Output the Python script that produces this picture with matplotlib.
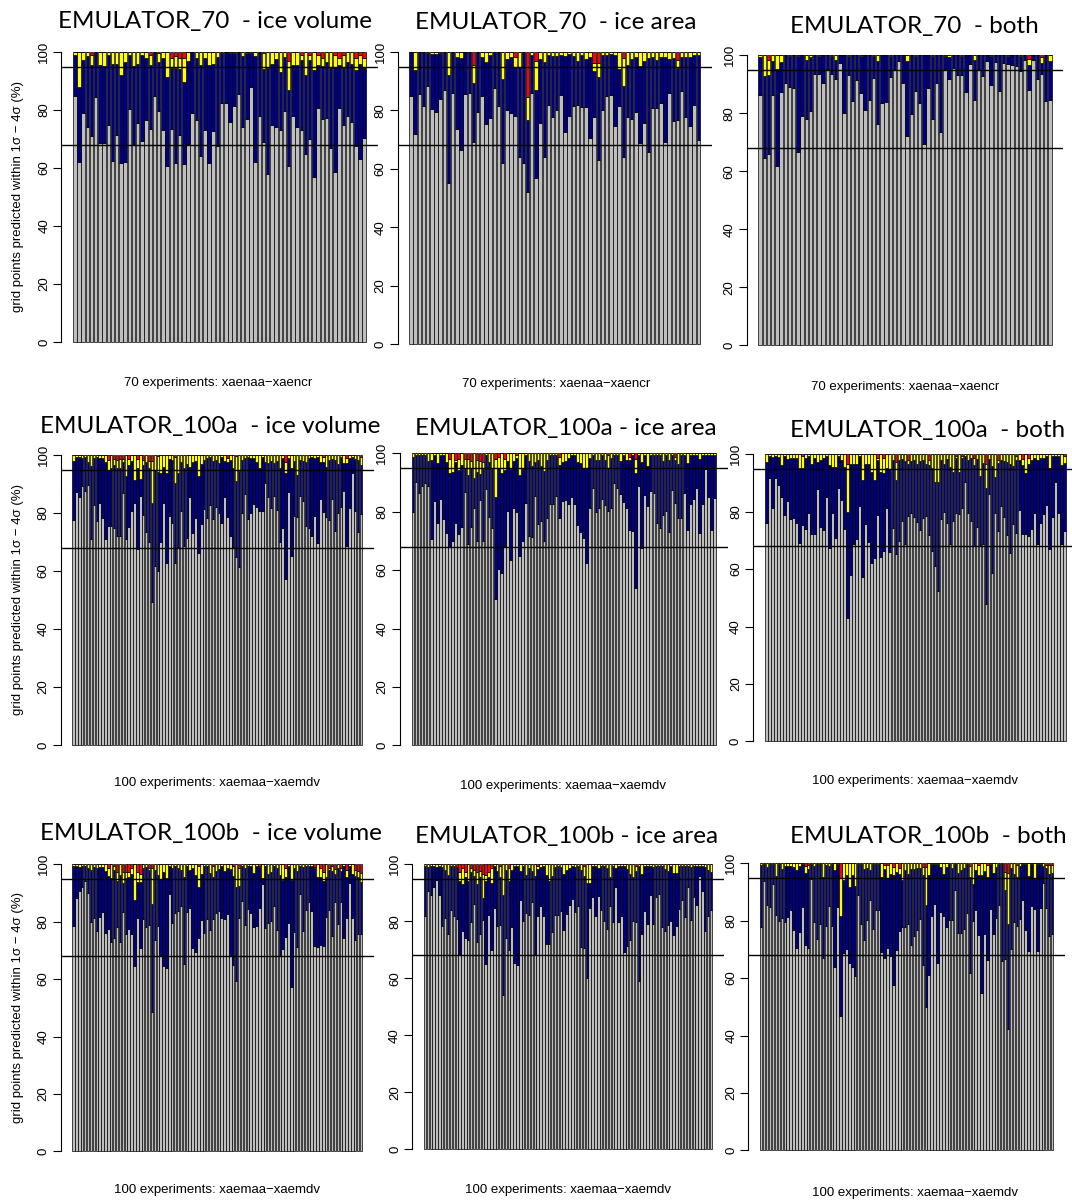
import matplotlib
matplotlib.use('Agg')
import matplotlib.pyplot as plt

plt.rcParams['font.family'] = ['Liberation Sans', 'DejaVu Sans']

W, H = 1072, 1204

#########################################################################################
#
#                 Data: % of grid points predicted within 1 sigma (gray),
#                 within 2 sigma (navy top) and share beyond 3 sigma (red)
#
#########################################################################################

# ---------------- EMULATOR_70 - ice volume
p1_sig1 = [85, 62, 79, 74, 71, 84.5, 68.6, 68.6, 74.7, 62.4,
           71.5, 61.7, 62, 80.2, 68, 75.6, 69.2, 76.4, 73.4, 84.8,
           79.7, 73, 60.7, 73.3, 61.6, 71.4, 61.3, 68.2, 79, 76.4,
           64.1, 73, 61.8, 72.6, 67.7, 82.5, 82.5, 76, 81.5, 85.5,
           74, 77, 88, 62, 78, 69, 58, 75, 74, 73,
           79.7, 60.7, 78, 74, 73, 65, 70, 57, 80.7, 77,
           77.4, 66.8, 58.7, 80.6, 75, 78, 76, 67.5, 63, 70.5]
p1_sig2 = [98.9, 88, 97.3, 98.5, 95.5, 100, 95.5, 95.2, 99, 96,
           96, 92.2, 96.7, 99, 95.3, 96, 99, 97.8, 95.5, 100,
           96.7, 98, 91.5, 94.4, 94.4, 94, 89.8, 97, 100, 98,
           95.5, 98, 95.5, 96, 98.4, 99.5, 100, 99.5, 99.7, 100,
           98.5, 99.5, 99.5, 98.5, 100, 94, 94.4, 96, 97.5, 93.2,
           98.4, 87, 95.5, 95.5, 97.2, 92, 97.3, 93.8, 95.5, 95.2,
           96.7, 94.4, 95, 95.5, 94.4, 96.7, 96, 93.8, 96, 94.4]
p1_out3 = [0, 0, 0, 0, 1, 0, 0, 0, 0, 0,
           0, 0, 0, 0, 0, 0, 0, 0, 1.2, 0,
           0.5, 0, 0, 2, 1.5, 2, 2, 0, 0, 0,
           0, 0, 0, 0, 0, 0, 0, 0, 0, 0,
           0, 0, 0, 0, 0, 0.5, 0, 0, 0, 0,
           0, 3, 0, 0, 1, 0, 1, 0, 1, 2,
           0, 0, 1, 2, 1, 0, 0, 2, 1, 2]

# ---------------- EMULATOR_70 - ice area
p2_sig1 = [85, 72, 85.6, 81.5, 88.5, 80.6, 79.5, 84, 87, 55,
           86, 73.5, 66.3, 85.6, 86, 69.3, 79.5, 85, 75.5, 77.5,
           87.7, 81.5, 62, 80, 79, 78, 64, 62, 52, 86,
           57, 75.8, 64, 82, 77.8, 80.3, 85.4, 72.5, 78.2, 81.5,
           82, 81.3, 81.3, 70.4, 77.6, 63, 80, 85.1, 85.3, 74.6,
           81.6, 64, 77.8, 77.1, 79.5, 69, 75.8, 65.8, 80.9, 80.7,
           82.7, 69.3, 85.8, 76.5, 76.7, 86.7, 77.6, 74.6, 82, 70]
p2_sig2 = [100, 93.8, 100, 100, 99.5, 99.2, 99.3, 99.5, 100, 92,
           100, 98.4, 98, 100, 100, 89.3, 100, 98.4, 96.7, 99,
           100, 100, 90.6, 97.5, 98.4, 94.7, 95, 100, 76.7, 99,
           87, 97.5, 96.7, 99, 98.8, 98.8, 99, 98.8, 99.2, 98.8,
           97, 99, 97.5, 98.4, 93.6, 91.3, 99, 99, 99.2, 99,
           94.3, 88.2, 95.5, 97.5, 98.2, 95.2, 97, 97.8, 98.4, 97.2,
           98.4, 98.2, 97.5, 97.8, 94.4, 98.4, 98.2, 98.4, 99, 99]
p2_out3 = [0, 0, 0, 0, 0, 0, 0, 0, 0, 0,
           0, 0, 0, 0, 0, 4.3, 0, 0, 0, 0,
           0, 0, 0, 0, 0, 1.8, 0, 0, 15.5, 0,
           3, 0, 0, 0, 0, 0, 0, 0, 0, 0,
           0, 0, 0, 0, 3.7, 3.7, 0, 0, 0, 0,
           0, 2, 0, 0, 0, 0, 0, 0, 0, 0,
           0, 0, 0, 0, 2.8, 0, 0, 0, 0, 0]

# ---------------- EMULATOR_70 - both
p3_sig1 = [86.3, 64.5, 65.9, 86.3, 62, 87.5, 90.5, 89, 88.7, 66.7,
           79, 78.2, 80.8, 93.4, 93.5, 90.6, 95.2, 93.6, 92, 97.3,
           80.2, 93.2, 84.3, 91.6, 87, 81, 84.5, 92.3, 76.3, 83.6,
           83.8, 92.5, 95, 98, 90.5, 72.3, 79.7, 87.6, 83.4, 69.5,
           88.8, 78, 90.5, 73.5, 95, 92, 95.7, 93.3, 93.3, 87.5,
           97, 84.5, 94.8, 92.7, 98.1, 89.9, 97.7, 87.7, 97.3, 97,
           96.8, 96.4, 94.5, 98.5, 87.9, 98.4, 91.8, 93.5, 84.4, 84.5]
p3_sig2 = [99.5, 93, 93.2, 98.2, 95.4, 97.8, 100, 99.7, 100, 99.7,
           100, 98.4, 99.5, 100, 99.7, 100, 100, 99.7, 98.4, 100,
           100, 99.7, 100, 100, 99.7, 100, 100, 99.7, 98, 100,
           100, 99.7, 100, 100, 100, 98.2, 100, 99.7, 100, 100,
           100, 99.7, 100, 100, 99.7, 99.3, 100, 100, 99.7, 100,
           100, 98.4, 100, 100, 100, 99.7, 100, 100, 100, 99.7,
           100, 100, 99.7, 100, 96.7, 100, 100, 97.5, 100, 98.2]
p3_out3 = [0, 0, 1.6, 0, 0, 0, 0, 0, 0, 0,
           0, 0, 0, 0, 0, 0, 0, 0, 0, 0,
           0, 0, 0, 0, 0, 0, 0, 0, 0, 0,
           0, 0, 0, 0, 0, 0, 0, 0, 0, 0,
           0, 0, 0, 0, 0, 0, 0, 0, 0, 0,
           0, 0, 0, 0, 0, 0, 0, 0, 0, 0,
           0, 0, 0, 0, 1.4, 0, 0, 0.7, 0, 0]

# ---------------- EMULATOR_100a - ice volume
p4_sig1 = [77.6, 87.4, 85.6, 89.4, 87.7, 89.7, 71, 82.8, 77.2, 83.3,
           78.4, 70.9, 75.6, 75.6, 74.9, 72.1, 72.1, 87, 71, 75.3,
           80.7, 83.6, 67.6, 86, 79.3, 73.6, 70, 49.2, 61.8, 60,
           70, 83.6, 62.6, 79, 76.4, 62.6, 68.4, 80.8, 68.6, 71.3,
           85.6, 73, 78.2, 66.3, 76.2, 81.4, 78.4, 82.8, 77.9, 82.2,
           80.1, 76.7, 85.4, 78.7, 72.2, 68.4, 64.9, 61.3, 80.1, 86.6,
           77.9, 79.9, 83.1, 82, 80.8, 80.7, 90.5, 85.6, 81.6, 85.9,
           81, 70, 74.7, 57.2, 87.4, 65.3, 79, 78.7, 86, 84.1,
           75.6, 74.7, 72.2, 79, 69.8, 84.8, 80.5, 78.7, 77.6, 85,
           73.8, 79.9, 82, 87.7, 68.7, 81.6, 93.7, 80.8, 73.3, 79.7]
p4_sig2 = [97.9, 99.4, 99.4, 99, 99.4, 97.7, 96.3, 99, 99.2, 99,
           99, 97.7, 94.8, 95.4, 96.6, 95.6, 95.4, 97.5, 92.9, 96.6,
           97.9, 91.4, 95.6, 91.7, 96.6, 97.7, 95.4, 83.3, 94.8, 94.3,
           93.7, 96, 93.7, 98.6, 98.3, 90.2, 93.7, 97.7, 95.6, 96.8,
           96, 97.7, 97.9, 92.9, 96.8, 98.3, 99, 99.2, 97.9, 98.3,
           97.1, 99.2, 97.9, 97.5, 98.3, 95.4, 91, 94.5, 98.3, 99,
           99.2, 99, 99, 97.5, 95.4, 99.2, 97.7, 97.1, 97.9, 97.1,
           97.9, 95.6, 99, 93.7, 99, 95.4, 97.9, 93.1, 98.3, 97.9,
           97.7, 99, 99.2, 99, 99.2, 97.7, 97.5, 96, 98.3, 98.6,
           98.3, 96.8, 99.2, 97.1, 97.1, 99, 99.2, 98.6, 98.3, 96.6]
p4_out3 = [0, 0, 0, 0, 0, 0, 0, 0, 0, 0,
           0, 0, 1.7, 0, 1.4, 1.7, 1.5, 1.4, 0, 1.4,
           0, 0, 1.5, 0, 1.7, 0, 2, 2, 0, 0.5,
           0, 0, 0, 0, 0, 0.8, 0, 0, 0, 0,
           0, 0, 0, 0, 0, 0, 0, 0, 0, 0,
           0, 0, 0, 1, 0, 0, 0.5, 0, 0, 0,
           0, 0, 0, 0, 0, 0, 0, 0, 0, 0,
           0, 0, 0, 2.5, 0, 0, 0, 0, 0, 0,
           0, 0, 0, 0, 0, 0, 0.8, 0, 0, 0,
           0, 0, 0, 0, 1, 0, 0, 0, 0, 0.8]

# ---------------- EMULATOR_100a - ice area
p5_sig1 = [79.8, 90.3, 86.5, 88.9, 89.9, 88.9, 70.5, 83.7, 76.2, 84.2,
           77.5, 72.6, 68, 69.9, 76.2, 72.3, 74.9, 86.6, 68.8, 74.9,
           81.4, 69.9, 84, 69.9, 87.8, 78.3, 74.5, 50, 60.3, 59.1,
           68.3, 80.3, 63.4, 81.1, 80, 64.9, 69.9, 82.9, 71.8, 71.4,
           85.5, 75.7, 76.8, 69.9, 77.9, 82.5, 82.5, 85.4, 77.9, 83.7,
           84, 82.5, 85.1, 82.5, 75.4, 73.1, 71.1, 62.3, 81.4, 88.2,
           79.8, 81.4, 84.2, 82.3, 80.2, 81.1, 89.7, 88, 85.9, 83.2,
           81.1, 73.9, 73.4, 53.9, 88.9, 67.7, 85.7, 82.1, 87.2, 86.3,
           76.2, 74.3, 78.9, 80.2, 73.1, 87.4, 83.1, 77.9, 77.9, 86.3,
           73.9, 82.6, 84.3, 88, 72.8, 82.5, 94.6, 85.1, 73.9, 84.6]
p5_sig2 = [98.9, 99.4, 99.4, 99.4, 99.4, 97.4, 97.7, 99.4, 96.6, 99.4,
           99.4, 96.9, 93.1, 93.7, 97.1, 94.3, 96, 94.9, 92.6, 94.9,
           91.7, 93.7, 92.8, 95.1, 99.4, 97.1, 94.9, 85.1, 94.9, 93.1,
           94.3, 97.4, 94.6, 97.4, 98.3, 92.6, 94.6, 99.4, 97.4, 95.8,
           96.9, 97.7, 95.8, 93.9, 97.7, 99.4, 99.4, 99.4, 96, 97.1,
           97.4, 98.3, 99.4, 99.4, 97.1, 96.6, 94.9, 95.1, 98.3, 99.4,
           97.7, 97.7, 99.4, 97.7, 95.1, 98.3, 99.4, 99.4, 97.4, 99.4,
           97.7, 97.7, 99.4, 93.1, 99.4, 96.9, 99.4, 95.8, 99.4, 99.4,
           99.4, 99.4, 97.4, 99.4, 97.7, 99.4, 97.7, 96.2, 99.4, 99.4,
           96.6, 99.4, 99.4, 99.4, 98.1, 99.4, 99.4, 99.4, 99.4, 99.4]
p5_out3 = [0, 0, 0, 0, 0, 0, 0, 0, 0, 0,
           0, 0, 1.9, 0, 2.3, 1.9, 0, 1.9, 1.9, 2.5,
           0, 2.3, 2.7, 3, 0, 0, 0, 2, 1.4, 0,
           1.9, 0, 0, 0, 0.5, 0, 0, 0, 0, 0,
           0, 0, 0, 0, 0, 0, 0, 0, 1.1, 0,
           0, 0, 0, 0, 0, 0, 0, 0, 0, 0,
           0, 0, 0, 0, 0.5, 0, 0, 0, 0, 0,
           0, 1.4, 0, 1.9, 0, 0, 0, 0, 0, 0,
           0, 0, 0, 0, 0, 0, 1.4, 0, 0, 0,
           0, 0, 0, 0, 0, 0, 0, 0, 0, 0]

# ---------------- EMULATOR_100a - both
p6_sig1 = [76.2, 91.9, 81.4, 91.6, 89.3, 85, 78.8, 83.7, 77.3, 77.9,
           76.2, 69.2, 75.3, 73.8, 79.7, 72.1, 72.1, 87.8, 74.5, 73.6,
           85, 67.4, 79.7, 70.7, 88.1, 84.1, 74, 43.1, 57.9, 68.7,
           70.5, 82.1, 57.3, 75.7, 69.5, 62, 63.7, 78.8, 64.3, 66.3,
           81.2, 65.8, 74.2, 65.1, 69.9, 76.9, 68.7, 78.5, 79.4, 78.3,
           76.5, 73.6, 77.9, 78.5, 71.9, 66.3, 61.2, 52.4, 77.4, 80,
           75.9, 68.7, 76.7, 79.7, 79.1, 81.2, 90.5, 79.4, 76.7, 68,
           74.5, 68, 68.7, 48, 86, 58.5, 79.7, 73.4, 82, 78,
           71.9, 65.5, 75.7, 72.7, 80.6, 72.1, 72.4, 71.6, 74, 79.7,
           68.7, 75.9, 79.2, 82.3, 67, 78, 90.5, 79.7, 68.6, 73.3]
p6_sig2 = [97.4, 99.4, 99.2, 99.4, 99.2, 96.3, 99.4, 98.4, 98.8, 98.6,
           98.8, 95.3, 95.3, 98.6, 99.4, 96.5, 98.6, 97.4, 98, 98.8,
           99.4, 96.3, 95.7, 95.7, 99.4, 98, 95.7, 80, 96.5, 96.5,
           96.5, 99.4, 91, 96.5, 96.5, 93.7, 91, 98, 94, 93.4,
           95.1, 94.9, 98, 91, 98, 98.4, 97.7, 96.5, 97.7, 98,
           96.5, 97.7, 98, 96.5, 96.3, 95.1, 90.5, 90.5, 98, 96.5,
           98.4, 95.7, 94, 98.6, 94, 98.6, 99.4, 98, 98.6, 96.3,
           98.4, 92.6, 96.9, 88.1, 98.4, 96, 92.2, 96.9, 98, 97.7,
           97.4, 96.5, 96, 98, 98, 96.3, 93.4, 96.5, 98, 98.6,
           98, 98.6, 98.8, 99.4, 95.1, 99.4, 99.4, 99.4, 96.3, 96.9]
p6_out3 = [0, 0, 0, 0, 0, 0, 0, 0, 0, 0,
           0, 0, 0.5, 0, 0, 0, 0, 0, 0, 0,
           0, 0, 0, 0, 0, 0, 0, 3.5, 0, 0,
           0, 0, 0, 0, 0, 0, 0, 1.2, 0, 1.2,
           0, 0, 0, 2.6, 0, 0, 0, 2, 0, 0,
           0, 0, 0, 0, 2, 0, 0, 0, 0, 0,
           0, 0, 0, 0.5, 0, 0.5, 0, 0, 0, 1.4,
           0, 0, 0, 3.5, 0, 0, 0, 2, 0, 0,
           0, 0, 0, 0.5, 0, 1.6, 0, 1.4, 0, 0,
           0, 0, 0, 0, 0, 0, 0, 0, 0, 0.5]

# ---------------- EMULATOR_100b - ice volume
p7_sig1 = [78.5, 88.4, 90.8, 92.2, 94.2, 90.1, 79.8, 81.2, 76.8, 81.8,
           83.3, 76, 77.4, 73.1, 74.2, 78.3, 72.9, 83.3, 75.6, 77.5,
           75.8, 64.4, 81.2, 71, 80.9, 78.3, 78.7, 48.5, 73.7, 78.5,
           67.9, 64.6, 63.8, 89.6, 79.7, 83.2, 83.9, 85.6, 65.3, 83.5,
           84.9, 70.8, 69.6, 74.2, 80.6, 76.2, 80.9, 77.1, 80.9, 82.9,
           83.8, 81.2, 80.9, 82.6, 68.1, 65, 59.2, 81.4, 87.2, 78.9,
           84.3, 82.9, 78.1, 78.5, 84.9, 93.2, 77.7, 79.5, 80.4, 85.5,
           77.1, 68.1, 70.4, 74.6, 79.5, 57.1, 76.3, 71.3, 89.6, 76.8,
           84.1, 86.7, 83.8, 71.6, 71.3, 71.9, 71.6, 81.8, 84.1, 75.1,
           87, 79.2, 87, 74.2, 81.2, 93.6, 81.2, 73.7, 75.6, 75.6]
p7_sig2 = [99.4, 99.4, 99.2, 99.4, 99.4, 98.6, 98, 99.2, 98.6, 99.2,
           99.2, 97.8, 95.9, 95.1, 98, 94.3, 96.3, 93.4, 95.1, 95.7,
           96.6, 87.4, 94, 93.7, 98.6, 99.2, 98, 86.2, 98, 96.3,
           94.8, 97.4, 95.1, 99.4, 98.6, 99.4, 98.6, 98, 95.7, 99.4,
           98, 98.6, 96.3, 92, 96.6, 99.4, 99.4, 97.1, 95.7, 97.8,
           98.3, 99.4, 97.8, 98.6, 98.3, 95.9, 92, 92.5, 99.4, 98.6,
           99.4, 99.4, 97.1, 99.4, 99, 95.1, 99.4, 96.6, 97.4, 99.4,
           98.6, 96.3, 94.5, 95.7, 99.4, 94.5, 98.6, 97.8, 99.4, 99.2,
           99.4, 99.4, 99.4, 98.6, 95.7, 95.5, 94.3, 95.7, 98, 97.8,
           96.6, 98.6, 97.8, 99.4, 95.7, 99.4, 96.6, 95.9, 95.7, 94]
p7_out3 = [0, 0, 0, 0, 0, 0, 0, 0, 0, 0,
           0, 0, 1.4, 0, 0.5, 2.6, 0, 2.6, 2.6, 2.6,
           1.4, 0, 2.6, 3.4, 0, 0, 1.4, 1.4, 0, 0,
           0, 0, 0, 0, 0, 0, 0, 0, 0, 0,
           0, 0, 0, 0.5, 0, 0, 0, 0, 0.5, 0,
           0, 0, 0, 0, 0, 0.5, 0, 1.4, 0, 0,
           0, 0, 0, 0, 0.5, 0, 0, 0, 0, 0,
           0, 0, 0, 1.4, 0, 0, 0, 0, 0, 0,
           0, 0, 0, 0.8, 0, 1.4, 2.6, 0, 1.4, 0.5,
           1.7, 0, 1.4, 0, 2, 0, 0, 2, 2.2, 3.1]

# ---------------- EMULATOR_100b - ice area
p8_sig1 = [81.7, 90.7, 89.3, 92.2, 94.5, 89.1, 78.3, 81.2, 75.6, 84.1,
           82, 80.9, 68.6, 76.5, 74, 73.6, 79.7, 86, 72.7, 75.7,
           80.6, 64.9, 82.1, 69.9, 84.7, 78.3, 78.8, 54.2, 74.2, 69.9,
           77.9, 65.5, 64.5, 87.6, 80.2, 82.9, 82.1, 86.6, 68.4, 82,
           85.5, 82, 71.9, 72.1, 76.3, 82.1, 82.1, 83.7, 77.1, 82.7,
           85.6, 87.9, 83.3, 85.2, 70.9, 70.5, 60.2, 84.7, 88.7, 81.7,
           89, 83.8, 80, 77.4, 85.5, 79.8, 92, 79.8, 81.7, 69.2,
           71.5, 73.6, 80.2, 79.7, 59.1, 75.6, 83.5, 79.2, 89.1, 79.1,
           88.7, 89.7, 78, 76.5, 78.8, 80.2, 75.1, 78.3, 84.4, 87.6,
           81.4, 92, 80.6, 88.7, 85.8, 96, 90.5, 76.5, 82, 84]
p8_sig2 = [99.4, 99.2, 99.4, 99.4, 99.2, 99.4, 99.2, 98, 96.3, 99.4,
           99.4, 99, 94.3, 93.1, 95.7, 94.3, 97.4, 95.9, 93.1, 95.5,
           88.1, 94.3, 95.7, 93.4, 99.4, 97.8, 95.7, 89.1, 98, 94.3,
           98, 99.4, 99.4, 97.8, 99.4, 96.3, 98.6, 97.8, 95.9, 98.3,
           98.9, 99.4, 96.3, 94, 95.9, 98.9, 99.4, 98.9, 96.6, 98,
           98.6, 99.4, 99.2, 99.4, 98, 95.9, 93.6, 93.6, 99.4, 99.4,
           98.6, 99.4, 99.4, 98.6, 95.5, 99.4, 98.6, 99.4, 99.4, 99.4,
           98.3, 96.6, 95.7, 97.8, 99.4, 96.6, 99.4, 99.4, 99.4, 99.2,
           99.4, 99.4, 99.4, 98.3, 97.8, 99.4, 97.1, 97.1, 99.4, 99.4,
           99.4, 99.4, 99.2, 99.4, 99.4, 99.4, 99.4, 99.2, 98, 97.4]
p8_out3 = [0, 0, 0, 0, 0, 0, 0, 0, 0, 0,
           0, 0.8, 2.6, 1.4, 2.6, 0, 1.4, 2, 2.6, 2.2,
           3.4, 3.7, 2.6, 1.4, 0, 0, 0.5, 0, 0, 1.4,
           0, 0, 0, 0, 0, 0, 0, 0, 0, 0.5,
           0, 0, 0, 0, 0, 0, 0, 0, 0, 0,
           0, 0, 0, 0, 0, 0.5, 0, 0, 0, 0,
           0, 0, 0, 0, 0, 0, 0, 0, 0, 0,
           0, 0, 0, 0.5, 0, 0, 0, 0, 0, 0,
           0, 0, 0, 0, 0, 0, 0, 0, 0, 0,
           0, 0, 0, 0, 0, 0, 0, 0, 0, 0]

# ---------------- EMULATOR_100b - both
p9_sig1 = [77.9, 94, 85.4, 84.7, 92.8, 82.1, 80, 81, 79.5, 81.2,
           83.6, 76.6, 70.4, 76, 84.7, 71.7, 70.6, 94.5, 79.6, 73.7,
           78.7, 66.9, 78.3, 85, 78.3, 64, 84.7, 46.9, 68.6, 70.2,
           65.2, 63.7, 60.6, 88.8, 78.7, 73.2, 80.2, 87.3, 77.2, 83.6,
           83.6, 69.1, 67.1, 70.6, 67.7, 57.7, 69.8, 76.4, 77.7, 77.7,
           78.9, 71.5, 74.6, 76.9, 80.7, 64.6, 49.8, 61, 81.8, 85.8,
           65.4, 82.9, 81.8, 77.7, 80.4, 80.4, 90.8, 75.8, 75.8, 77.2,
           82.7, 61.9, 79.8, 83.6, 75, 54.8, 75.2, 66.2, 84.1, 75.4,
           81, 85.4, 66, 66.5, 42.3, 70.2, 79.5, 78.1, 80.7, 87.1,
           76.9, 69.4, 85, 84.2, 69.4, 84.4, 93.3, 84.4, 74.6, 75.5]
p9_sig2 = [99.4, 99.6, 98.8, 99.6, 99.6, 95.6, 99.6, 97.9, 99.1, 99.1,
           99.1, 98.6, 97.7, 99.1, 99.6, 96.5, 97.9, 99.6, 99.1, 99.6,
           99.6, 95.4, 99.4, 99.1, 99.6, 97.5, 99.6, 81.5, 94.2, 96,
           91.9, 96, 92.2, 99.6, 99.6, 97.9, 98.3, 97.7, 99.6, 99.6,
           99.6, 95.4, 97.9, 94.8, 96.3, 96, 96.8, 96.3, 94.2, 97.5,
           96.3, 97.9, 97.9, 98.3, 98.3, 96, 85.6, 96, 99.6, 99.6,
           99.6, 98.6, 96.3, 98.6, 99.6, 98.3, 99.6, 96.5, 97.5, 98.3,
           99.6, 95.4, 92.8, 97.5, 96, 96, 97.2, 95.4, 99.6, 96.5,
           98.8, 99.6, 99.6, 90.8, 78.7, 98.3, 96.3, 95.2, 99.1, 99.6,
           99.6, 95.6, 99.6, 94.8, 99.6, 99.6, 99.1, 98.3, 96.3, 96.5]
p9_out3 = [0, 0, 0, 0, 0, 0, 0, 0, 0, 0,
           0, 0, 0, 0, 0, 0.9, 0.6, 0, 0, 0,
           0, 0, 0, 0, 0, 0, 0, 5.2, 0, 0,
           0, 0, 0, 0, 0, 0, 0, 0, 0, 0,
           0, 0, 0.5, 0.5, 0, 1.2, 0, 1.7, 0, 0,
           0, 0, 0, 0, 0, 1.2, 1.4, 0, 0, 0,
           0, 0, 0, 0, 0, 0, 0, 0, 0, 0,
           0, 0.9, 0, 0, 0.5, 0, 0, 0.5, 0, 0,
           0, 0, 0, 2.9, 3.5, 0, 0, 0.5, 0, 0,
           0, 0, 0, 0, 0, 0, 0, 0.5, 0.6, 0.6]

titles = ['EMULATOR_70  - ice volume', 'EMULATOR_70  - ice area', 'EMULATOR_70  - both',
          'EMULATOR_100a  - ice volume', 'EMULATOR_100a - ice area', 'EMULATOR_100a  - both',
          'EMULATOR_100b  - ice volume', 'EMULATOR_100b - ice area', 'EMULATOR_100b  - both']
xlabels = ['70 experiments: xaenaa\u2212xaencr'] * 3 + ['100 experiments: xaemaa\u2212xaemdv'] * 6
ylabel = 'grid points predicted within 1\u03c3 \u2212 4\u03c3 (%)'

GRIS = '#bebebe'
AZUL = '#000080'
AMARILLO = '#ffff00'
ROJO = '#ff0000'


def caja(izq, der, y_cero, unidad):
    # plot region from -4 to 104 in y (R style 4% padding)
    arriba = y_cero - 104 * unidad
    abajo = y_cero + 4 * unidad
    return [izq / W, 1 - abajo / H, (der - izq) / W, (abajo - arriba) / H]


def dibujar_panel(fig, rect, sig1, sig2, out3):
    n = len(sig1)
    ax = fig.add_axes(rect)
    izq = [0.2 + 1.2 * i for i in range(n)]
    alto_azul = [b - a for a, b in zip(sig1, sig2)]
    alto_amar = [max(100 - r - b, 0) for b, r in zip(sig2, out3)]
    base_rojo = [b + y for b, y in zip(sig2, alto_amar)]
    estilo = dict(width=1, align='edge', edgecolor='black', linewidth=0.5)
    ax.bar(izq, sig1, color=GRIS, **estilo)
    ax.bar(izq, alto_azul, bottom=sig1, color=AZUL, **estilo)
    ax.bar(izq, alto_amar, bottom=sig2, color=AMARILLO, **estilo)
    ax.bar(izq, out3, bottom=base_rojo, color=ROJO, **estilo)
    rango = 1.2 * n - 0.2
    ax.set_xlim(0.2 - 0.04 * rango, 1.2 * n + 0.04 * rango)
    ax.set_ylim(-4, 104)
    ax.axhline(68, color='black', lw=1.0, zorder=5)
    ax.axhline(95, color='black', lw=1.0, zorder=5)
    for s in ['top', 'right', 'bottom']:
        ax.spines[s].set_visible(False)
    ax.spines['left'].set_bounds(0, 100)
    ax.spines['left'].set_linewidth(0.8)
    ax.set_xticks([])
    ax.set_yticks([0, 20, 40, 60, 80, 100])
    ax.set_yticklabels(['0', '20', '40', '60', '80', '100'], rotation=90, va='center')
    ax.tick_params(axis='y', length=6, width=0.8, pad=2, labelsize=9.5)
    ax.patch.set_visible(False)
    return ax


fig = plt.figure(figsize=(W / 100, H / 100), dpi=100)

datos = [(p1_sig1, p1_sig2, p1_out3), (p2_sig1, p2_sig2, p2_out3), (p3_sig1, p3_sig2, p3_out3),
         (p4_sig1, p4_sig2, p4_out3), (p5_sig1, p5_sig2, p5_out3), (p6_sig1, p6_sig2, p6_out3),
         (p7_sig1, p7_sig2, p7_out3), (p8_sig1, p8_sig2, p8_out3), (p9_sig1, p9_sig2, p9_out3)]

# pixel layout of each panel: left, right, y of 0, px per unit
cajas = [(61.3, 377.7, 342, 2.9), (397.7, 711.6, 344, 2.92), (746.6, 1063.4, 345.3, 2.9),
         (60.7, 373.9, 745, 2.9), (399.5, 728.2, 745.3, 2.92), (753, 1077.7, 741.3, 2.87),
         (60.7, 373.9, 1151.3, 2.87), (412.2, 723.8, 1149.3, 2.85), (748.3, 1065, 1150.3, 2.87)]
pos_titulo = [(58, 28), (415, 29), (790, 33), (40, 433), (415, 435), (790, 437),
              (40, 840), (415, 843), (790, 843)]
pos_xlab = [(218, 383), (556, 384), (905, 387), (217, 783), (563, 786), (915, 781),
            (217, 1190), (568, 1190), (915, 1193)]

for k in range(9):
    izq, der, y0, u = cajas[k]
    s1, s2, o3 = datos[k]
    dibujar_panel(fig, caja(izq, der, y0, u), s1, s2, o3)
    tx, ty = pos_titulo[k]
    fig.text(tx / W, 1 - ty / H, titles[k], fontsize=17.5, family=['Lato', 'DejaVu Sans'],
             ha='left', va='baseline')
    lx, ly = pos_xlab[k]
    fig.text(lx / W, 1 - ly / H, xlabels[k], fontsize=9.5, ha='center', va='center')
    if k % 3 == 0:
        fig.text(18 / W, 1 - (y0 - 50 * u) / H, ylabel, fontsize=9.5, rotation=90,
                 ha='center', va='center')

fig.savefig('out.png', dpi=100)
